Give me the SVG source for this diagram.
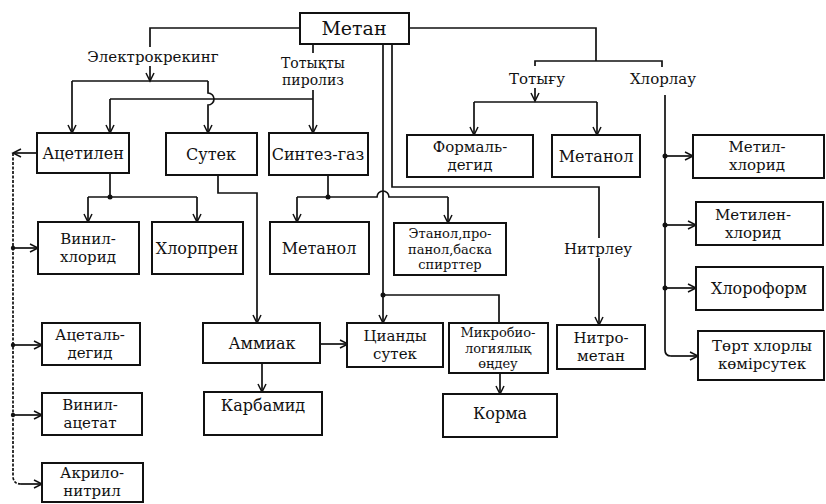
<svg xmlns="http://www.w3.org/2000/svg" width="826" height="504" viewBox="0 0 826 504">
<style>
.b{fill:#fff;stroke:#111;stroke-width:2}
.t{font-family:"DejaVu Serif","Liberation Serif",serif;font-size:16px;fill:#111;text-anchor:middle}
.m{font-size:15px}
.s{font-size:13px}
.l{font-family:"DejaVu Serif","Liberation Serif",serif;font-size:15px;fill:#111;text-anchor:middle}
.c{fill:none;stroke:#111;stroke-width:1.7}
.a{marker-end:url(#ar)}
.d{stroke-dasharray:3 1.5}
.dot{fill:#111}
</style>
<defs>
<marker id="ar" markerUnits="userSpaceOnUse" markerWidth="12" markerHeight="12" refX="9" refY="5" orient="auto">
<path d="M1,1 L9,5 L1,9" fill="none" stroke="#111" stroke-width="1.5"/>
</marker>
</defs>
<rect width="826" height="504" fill="#fff"/>
<g id="connectors">
<path class="c" d="M300 28 H150 V47"/>
<path class="c a" d="M150 66 V81"/>
<path class="c" d="M72 81 H208"/>
<path class="c a" d="M72 81 V133"/>
<path class="c a" d="M208 81 V93 A6 6 0 0 1 208 105 V133"/>
<path class="c" d="M313 44 V53"/>
<path class="c a" d="M313 90 V133"/>
<path class="c" d="M110 99 H313"/>
<path class="c a" d="M110 99 V133"/>
<path class="c" d="M110 173 V197"/>
<path class="c" d="M88 197 H197"/>
<path class="c a" d="M88 197 V222"/>
<path class="c a" d="M197 197 V222"/>
<circle class="dot" cx="110" cy="197" r="2.5"/>
<path class="c a" d="M37 153 H13"/>
<path class="c d" d="M13 153 V476 Q13 484 21 484"/>
<path class="c a" d="M21 484 H42"/>
<path class="c a" d="M13 248 H38"/>
<path class="c a" d="M13 345 H42"/>
<path class="c a" d="M13 415 H42"/>
<circle class="dot" cx="13" cy="248" r="2.2"/>
<circle class="dot" cx="13" cy="345" r="2.2"/>
<circle class="dot" cx="13" cy="415" r="2.2"/>
<path class="c a" d="M218 175 V193 H257 V323"/>
<path class="c" d="M328 175 V197"/>
<path class="c" d="M297 197 H377 A6 6 0 0 1 389 197 H448"/>
<path class="c a" d="M297 197 V222"/>
<path class="c a" d="M448 197 V223"/>
<circle class="dot" cx="328" cy="197" r="2.5"/>
<path class="c a" d="M383 44 V323"/>
<path class="c" d="M383 295 H499 V323"/>
<circle class="dot" cx="383" cy="295" r="2.5"/>
<path class="c" d="M392 44 V187 H599 V238"/>
<path class="c a" d="M599 258 V325"/>
<path class="c" d="M409 28 H596 V61"/>
<path class="c" d="M535 66 V61 H662 V67"/>
<path class="c a" d="M535 88 V101"/>
<path class="c" d="M474 102 H597"/>
<path class="c a" d="M474 102 V135"/>
<path class="c a" d="M597 102 V135"/>
<path class="c" d="M665 95 V350 Q665 356 671 356"/>
<path class="c a" d="M671 356 H698"/>
<path class="c a" d="M665 156 H693"/>
<path class="c a" d="M665 225 H696"/>
<path class="c a" d="M665 288 H696"/>
<circle class="dot" cx="665" cy="156" r="2.5"/>
<circle class="dot" cx="665" cy="225" r="2.5"/>
<circle class="dot" cx="665" cy="288" r="2.5"/>
<path class="c a" d="M320 344 H348"/>
<path class="c a" d="M262 363 V392"/>
<path class="c a" d="M500 373 V394"/>
</g>
<g id="labels">
<text class="l" x="153" y="62">Электрокрекинг</text>
<text class="l" x="313" y="68" style="font-size:14px">Тотықты</text>
<text class="l" x="313" y="85" style="font-size:14px">пиролиз</text>
<text class="l" x="537" y="84">Тотығу</text>
<text class="l" x="663" y="84">Хлорлау</text>
<text class="l" x="598" y="254">Нитрлеу</text>
</g>
<g id="metan"><rect class="b" x="300" y="13" width="109" height="31"/><text class="t" x="354" y="35" style="font-size:19px">Метан</text></g>
<g id="acetilen"><rect class="b" x="37" y="133" width="92" height="40"/><text class="t" x="83" y="159">Ацетилен</text></g>
<g id="sutek"><rect class="b" x="166" y="133" width="91" height="42"/><text class="t" x="211" y="160">Сутек</text></g>
<g id="sintezgaz"><rect class="b" x="269" y="133" width="99" height="42"/><text class="t" x="318" y="160">Синтез-газ</text></g>
<g id="formaldegid"><rect class="b" x="407" y="135" width="126" height="42"/><text class="t m" x="470" y="152">Формаль-</text><text class="t m" x="470" y="170">дегид</text></g>
<g id="metanol1"><rect class="b" x="552" y="135" width="88" height="42"/><text class="t" x="596" y="162">Метанол</text></g>
<g id="metilhlorid"><rect class="b" x="693" y="135" width="131" height="43"/><text class="t m" x="757" y="152">Метил-</text><text class="t m" x="757" y="170">хлорид</text></g>
<g id="vinilhlorid"><rect class="b" x="38" y="222" width="101" height="52"/><text class="t m" x="88" y="244">Винил-</text><text class="t m" x="88" y="262">хлорид</text></g>
<g id="hlorpren"><rect class="b" x="152" y="222" width="91" height="52"/><text class="t" x="197" y="254">Хлорпрен</text></g>
<g id="metanol2"><rect class="b" x="270" y="222" width="99" height="52"/><text class="t" x="319" y="254">Метанол</text></g>
<g id="etanol"><rect class="b" x="394" y="223" width="112" height="52"/><text class="t s" x="450" y="238">Этанол,про-</text><text class="t s" x="450" y="253.5">панол,баска</text><text class="t s" x="450" y="269">спирттер</text></g>
<g id="metilenhlorid"><rect class="b" x="696" y="202" width="127" height="43"/><text class="t m" x="753" y="220">Метилен-</text><text class="t m" x="753" y="238">хлорид</text></g>
<g id="hloroform"><rect class="b" x="696" y="267" width="127" height="43"/><text class="t" x="759" y="294">Хлороформ</text></g>
<g id="acetaldegid"><rect class="b" x="42" y="323" width="98" height="42"/><text class="t m" x="90" y="340">Ацеталь-</text><text class="t m" x="90" y="358">дегид</text></g>
<g id="ammiak"><rect class="b" x="203" y="323" width="117" height="40"/><text class="t" x="262" y="349">Аммиак</text></g>
<g id="cianid"><rect class="b" x="347" y="323" width="96" height="44"/><text class="t m" x="395" y="341">Цианды</text><text class="t m" x="395" y="359">сутек</text></g>
<g id="mikrobio"><rect class="b" x="449" y="323" width="99" height="50"/><text class="t s" x="498" y="337">Микробио-</text><text class="t s" x="498" y="352.5">логиялық</text><text class="t s" x="498" y="368">өңдеу</text></g>
<g id="nitrometan"><rect class="b" x="557" y="325" width="88" height="44"/><text class="t m" x="601" y="343">Нитро-</text><text class="t m" x="601" y="361">метан</text></g>
<g id="tortlorly"><rect class="b" x="698" y="331" width="126" height="49"/><text class="t m" x="762" y="351">Төрт хлорлы</text><text class="t m" x="762" y="369">көмірсутек</text></g>
<g id="vinilacetat"><rect class="b" x="42" y="393" width="100" height="42"/><text class="t m" x="90" y="410">Винил-</text><text class="t m" x="90" y="428">ацетат</text></g>
<g id="karbamid"><rect class="b" x="204" y="392" width="118" height="43"/><text class="t" x="263" y="411">Карбамид</text></g>
<g id="korma"><rect class="b" x="443" y="394" width="114" height="43"/><text class="t" x="500" y="419">Корма</text></g>
<g id="akrilonitril"><rect class="b" x="42" y="463" width="101" height="39"/><text class="t m" x="92" y="478">Акрило-</text><text class="t m" x="92" y="496">нитрил</text></g>
</svg>
